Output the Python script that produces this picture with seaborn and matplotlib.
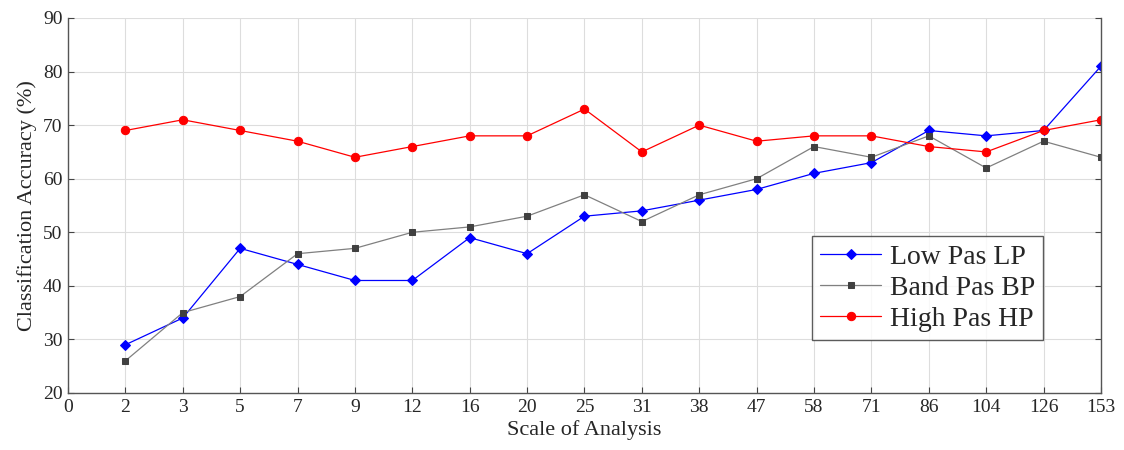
import numpy as np
import pandas as pd
import seaborn as sns
import matplotlib.pyplot as plt

scales = ["2", "3", "5", "7", "9", "12", "16", "20", "25", "31", "38", "47", "58", "71", "86", "104", "126", "153"]
low_pas = [29, 34, 47, 44, 41, 41, 49, 46, 53, 54, 56, 58, 61, 63, 69, 68, 69, 81]
band_pas = [26, 35, 38, 46, 47, 50, 51, 53, 57, 52, 57, 60, 66, 64, 68, 62, 67, 64]
high_pas = [69, 71, 69, 67, 64, 66, 68, 68, 73, 65, 70, 67, 68, 68, 66, 65, 69, 71]
series_names = ["Low Pas LP", "Band Pas BP", "High Pas HP"]

pos = np.arange(1, len(scales) + 1)
df = pd.concat([
    pd.DataFrame({"pos": pos, "acc": vals, "filtro": name})
    for name, vals in zip(series_names, [low_pas, band_pas, high_pas])
])

sns.set_style("whitegrid")
plt.rcParams['font.family'] = ['Liberation Serif', 'DejaVu Serif']

fig = plt.figure(figsize=(11.24, 4.5), dpi=100)
ax = fig.add_axes([0.0605, 0.1267, 0.919, 0.8333])

cores = {"Low Pas LP": "#0000ff", "Band Pas BP": "#808080", "High Pas HP": "#ff0000"}
marcadores = {"Low Pas LP": "D", "Band Pas BP": "s", "High Pas HP": "o"}
mk_cor = {"Low Pas LP": "#0000ff", "Band Pas BP": "#404040", "High Pas HP": "#ff0000"}
mk_tam = {"Low Pas LP": 5, "Band Pas BP": 5, "High Pas HP": 6}

for name in series_names:
    sub = df[df["filtro"] == name]
    sns.lineplot(data=sub, x="pos", y="acc", ax=ax, color=cores[name], lw=0.9,
                 marker=marcadores[name], markersize=mk_tam[name],
                 markerfacecolor=mk_cor[name], markeredgecolor=mk_cor[name],
                 label=name)

ax.set_xlim(0, len(scales))
ax.set_ylim(20, 90)
ax.set_xticks(np.arange(0, len(scales) + 1))
ax.set_xticklabels(["0"] + scales)
ax.set_yticks(np.arange(20, 91, 10))
ax.tick_params(axis="both", labelsize=14, direction="in", length=4, color="#444444",
               top=False, right=True, bottom=True, left=True, pad=4)
ax.grid(True, color="#dddddd", lw=0.8)
for s in ax.spines.values():
    s.set_color("#555555")
    s.set_linewidth(1.0)
ax.spines["top"].set_visible(False)
ax.set_xlabel("Scale of Analysis", fontsize=16, labelpad=3)
ax.set_ylabel("Classification Accuracy (%)", fontsize=16, labelpad=4)

leg = ax.legend(loc="lower left", bbox_to_anchor=(0.72, 0.14), fontsize=20,
                frameon=True, fancybox=False, handlelength=2.2, handletextpad=0.3,
                borderpad=0.3, labelspacing=0.2, borderaxespad=0)
leg.get_frame().set_edgecolor("#333333")
leg.get_frame().set_linewidth(1.0)

fig.savefig("out.png", dpi=100)
